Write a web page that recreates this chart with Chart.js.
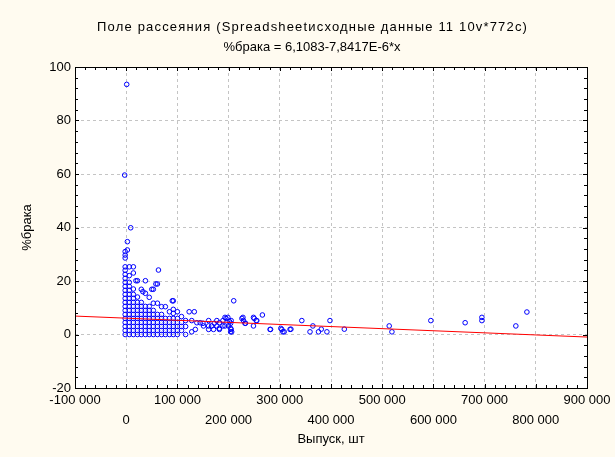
<!DOCTYPE html>
<html>
<head>
<meta charset="utf-8">
<script src="https://cdn.jsdelivr.net/npm/chart.js@4.4.0/dist/chart.umd.min.js"></script>
<style>
html, body { margin: 0; padding: 0; background: #fffbf0; }
#scatterChart { display: block; }
</style>
</head>
<body>
<canvas id="scatterChart" width="615" height="457"></canvas>
<script>
// заголовки
const titleText = 'Поле рассеяния (Spreadsheetисходные данные 11 10v*772c)';
const subtitleText = '%брака = 6,1083-7,8417E-6*x';
const xTitle = 'Выпуск, шт';
const yTitle = '%брака';

// коэффициенты регрессии (из подписи графика)
const fitIntercept = 6.1083;
const fitSlope = -7.8417E-6;

// оси
const xTicks = [-100000, 0, 100000, 200000, 300000, 400000, 500000, 600000, 700000, 800000, 900000];
const yTicks = [-20, 0, 20, 40, 60, 80, 100];

// плотное облако у нуля: столбцы по x и значения y в каждом
const clusterX = [-2000, 6000, 14000, 22000, 29500, 37500, 45000, 53000, 61000, 69000, 76500, 84500, 92000, 100000, 108000, 116000];
const clusterY = [
    [0, 1.5, 3, 4.5, 6, 7.5, 9, 10.5, 12, 13.5, 15, 16.5, 18, 19.5, 21, 22.5, 24, 25.3, 28.6, 29.7, 31],
    [0, 1.5, 3, 4.5, 6, 7.5, 9, 10.5, 12, 13.5, 15, 16.5, 18, 19.5, 22, 25.3],
    [0, 1.5, 3, 4.5, 6, 7.5, 9, 10.5, 12, 13.5, 15, 17, 23, 25.3],
    [0, 1.5, 3, 4.5, 6, 7.5, 9, 10.5, 12, 14, 20.1],
    [0, 1.5, 3, 4.5, 6, 7.5, 9, 10.5, 12, 16.9],
    [0, 1.5, 3, 4.5, 6, 7.5, 9, 10.5, 15.4, 20.1],
    [0, 1.5, 3, 4.5, 6, 7.5, 9, 10.5, 13.9],
    [0, 1.5, 3, 4.5, 6, 7.5, 9, 11.7, 16.9],
    [0, 1.5, 3, 4.5, 6, 7.5, 11.7, 18.9],
    [0, 1.5, 3, 4.5, 6, 7.5, 10.4],
    [0, 1.5, 3, 4.5, 6, 10.4],
    [0, 1.5, 3, 4.5, 6, 8.5],
    [0, 1.5, 3, 4.5, 6, 7.9, 9.4, 12.6],
    [0, 1.5, 3, 4.5, 6, 8.5],
    [1.5, 3, 4.5, 6.7],
    [0, 3, 5.2]
];

// отдельные точки
const outlierPts = [
    [1000, 93.5], [-3000, 59.6], [8800, 39.9], [2300, 34.7], [2300, 31.6],
    [63000, 24.1], [19000, 20.1], [58000, 18.9], [32600, 16], [50000, 16.9], [90000, 12.6]
];
const midPts = [
    [123000, 8.5], [133000, 8.5], [128000, 5.2], [138000, 4.4], [144500, 4.4], [150000, 4.2],
    [161000, 5.2], [177000, 5.2], [182000, 4.4], [193000, 6.4], [198500, 6.4], [205000, 5.2],
    [228000, 6.4], [229000, 5.2], [233000, 4.2], [248600, 6.4], [254000, 5.2], [266000, 7.3],
    [248600, 3.2], [281000, 1.9], [304000, 1.9], [306000, 1.0], [320000, 1.9], [128000, 1.0],
    [135000, 1.9], [151000, 3.2], [161000, 1.9], [170500, 1.9], [182000, 1.9], [193000, 3.2],
    [200000, 3.2], [205000, 1.9], [206000, 1.0], [210000, 12.6], [161000, 3.2], [167000, 3.2],
    [172000, 4.2], [177000, 3.2], [182000, 2.3], [189000, 5.2], [189000, 3.2], [195000, 6.0],
    [202000, 4.8], [204000, 4.2], [204000, 2.3], [204000, 1.0], [226000, 6.0], [232000, 4.2],
    [250000, 6.0], [255000, 5.2], [282000, 1.9], [302000, 2.3]
];
const farPts = [
    [308500, 1.0], [321700, 2.0], [343000, 5.2], [359000, 1.0], [364600, 3.2], [375600, 1.0],
    [381000, 2.0], [392000, 1.0], [398000, 5.2], [426000, 2.0], [513700, 3.2], [519000, 1.0],
    [595000, 5.2], [662000, 4.4], [694700, 6.4], [694700, 5.2], [761000, 3.2], [782600, 8.4]
];

const FONT = '"Liberation Sans", Arial, sans-serif';

function fmtThousands(v) {
    const s = Math.abs(v).toString().replace(/\B(?=(\d{3})+(?!\d))/g, ' ');
    return (v < 0 ? '-' : '') + s;
}

let points = [];
clusterX.forEach((x, i) => {
    clusterY[i].forEach(y => points.push({x: x, y: y}));
});
outlierPts.concat(midPts, farPts).forEach(p => points.push({x: p[0], y: p[1]}));

const xMin = xTicks[0], xMax = xTicks[xTicks.length - 1];
const fitLine = [
    {x: xMin, y: fitIntercept + fitSlope * xMin},
    {x: xMax, y: fitIntercept + fitSlope * xMax}
];

// фон: кремовый холст, белая область графика
const bgPlugin = {
    id: 'bg',
    beforeDraw(chart) {
        const ctx = chart.ctx, a = chart.chartArea;
        ctx.save();
        ctx.fillStyle = '#fffbf0';
        ctx.fillRect(0, 0, chart.width, chart.height);
        ctx.fillStyle = '#ffffff';
        ctx.fillRect(a.left, a.top, a.right - a.left, a.bottom - a.top);
        ctx.restore();
    }
};

// рамка, мелкие засечки внутрь и заголовки
const framePlugin = {
    id: 'frame',
    afterDraw(chart) {
        const ctx = chart.ctx, a = chart.chartArea;
        const xs = chart.scales.x, ys = chart.scales.y;
        ctx.save();
        ctx.strokeStyle = '#000';
        ctx.lineWidth = 1;
        ctx.strokeRect(Math.round(a.left) + 0.5, Math.round(a.top) + 0.5,
            Math.round(a.right - a.left), Math.round(a.bottom - a.top));

        ctx.beginPath();
        for (let v = xMin; v <= xMax; v += 20000) {
            const px = Math.round(xs.getPixelForValue(v)) + 0.5;
            const len = (v % 100000 === 0) ? 4 : 3;
            ctx.moveTo(px, a.bottom); ctx.lineTo(px, a.bottom - len);
            ctx.moveTo(px, a.top); ctx.lineTo(px, a.top + len);
        }
        for (let v = yTicks[0]; v <= yTicks[yTicks.length - 1]; v += 4) {
            const py = Math.round(ys.getPixelForValue(v)) + 0.5;
            const len = (v % 20 === 0) ? 4 : 3;
            ctx.moveTo(a.left, py); ctx.lineTo(a.left + len, py);
            ctx.moveTo(a.right, py); ctx.lineTo(a.right - len, py);
        }
        ctx.stroke();

        ctx.fillStyle = '#000';
        ctx.textAlign = 'center';
        ctx.textBaseline = 'middle';
        ctx.font = '13px ' + FONT;
        drawSpaced(ctx, titleText, 312, 27, 430);
        drawSpaced(ctx, subtitleText, 312, 47, 159);
        ctx.restore();
    }
};

function drawSpaced(ctx, text, cx, cy, target) {
    ctx.letterSpacing = '0px';
    const w = ctx.measureText(text).width;
    const sp = Math.max(0, (target - w) / (text.length - 1));
    ctx.letterSpacing = sp.toFixed(2) + 'px';
    ctx.fillText(text, cx + sp / 2, cy);
    ctx.letterSpacing = '0px';
}

new Chart(document.getElementById('scatterChart'), {
    type: 'scatter',
    data: {
        datasets: [{
            type: 'line',
            data: fitLine,
            borderColor: '#ff0000',
            borderWidth: 1,
            pointRadius: 0,
            fill: false
        }, {
            data: points,
            pointRadius: 2.3,
            pointBorderWidth: 1,
            borderColor: '#0000ff',
            backgroundColor: 'rgba(0,0,0,0)'
        }]
    },
    options: {
        responsive: false,
        animation: false,
        devicePixelRatio: 1,
        layout: { padding: { left: 0, right: 28, top: 67, bottom: 0 } },
        plugins: {
            legend: { display: false },
            tooltip: { enabled: false },
            title: { display: false }
        },
        scales: {
            x: {
                type: 'linear',
                min: xMin,
                max: xMax,
                afterBuildTicks(s) { s.ticks = xTicks.map(v => ({value: v})); },
                afterFit(s) { s.height = 69; },
                ticks: {
                    autoSkip: false,
                    maxRotation: 0,
                    padding: 2,
                    color: '#000',
                    font: { family: FONT, size: 13, lineHeight: 1.54 },
                    callback: function (value, index) {
                        return index % 2 === 0 ? fmtThousands(value) : ['', fmtThousands(value)];
                    }
                },
                grid: { color: '#c4c4c4', drawTicks: false, lineWidth: 1 },
                border: { display: false, dash: [3, 3] },
                title: {
                    display: true, text: xTitle, color: '#000',
                    font: { family: FONT, size: 13 },
                    padding: { top: 0, bottom: 10 }
                }
            },
            y: {
                type: 'linear',
                min: yTicks[0],
                max: yTicks[yTicks.length - 1],
                afterBuildTicks(s) { s.ticks = yTicks.map(v => ({value: v})); },
                afterFit(s) { s.width = 75; },
                ticks: {
                    padding: 4,
                    color: '#000',
                    font: { family: FONT, size: 13 }
                },
                grid: { color: '#c4c4c4', drawTicks: false, lineWidth: 1 },
                border: { display: false, dash: [3, 3] },
                title: {
                    display: true, text: yTitle, color: '#000',
                    font: { family: FONT, size: 13 },
                    padding: { top: 20, bottom: 0 }
                }
            }
        }
    },
    plugins: [bgPlugin, framePlugin]
});
</script>
</body>
</html>
